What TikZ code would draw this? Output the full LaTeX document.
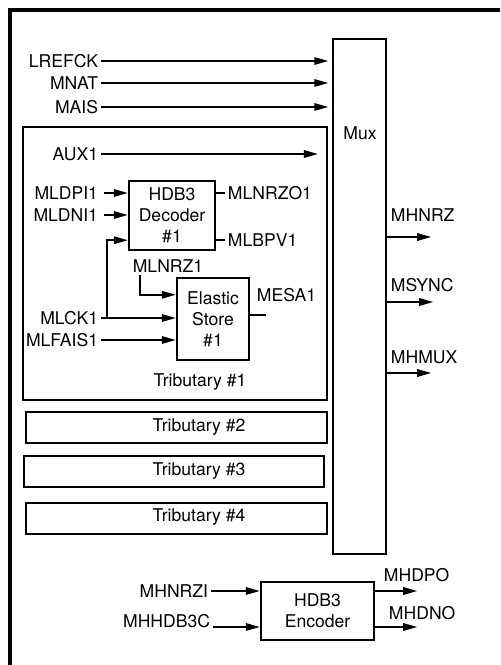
\documentclass[tikz,border=0pt]{standalone}
\usepackage{fontspec}
\setmainfont{TeX Gyre Heros}
\usepackage{tikz}
\usetikzlibrary{arrows.meta,positioning,calc}
\tikzset{
  frame/.style = {line width=2.8pt},
  blk/.style   = {draw,line width=1.4pt,align=center,inner sep=0pt},
  trib/.style  = {draw,line width=1.1pt,inner sep=0pt},
  lbl/.style   = {inner sep=1.5pt,align=center,
                  font=\fontsize{10}{12}\selectfont},
  sig/.style   = {-{Triangle[length=2.8mm,width=1.5mm]},line width=0.9pt},
  stub/.style  = {line width=0.9pt},
}

\begin{document}
\begin{tikzpicture}[x=0.02cm,y=-0.02cm,font=\fontsize{10}{12}\selectfont]
  \useasboundingbox (0,0) rectangle (500,665);
  % outer frame
  \draw[frame] (10,665) -- (10,10) -- (500,10);

  % Mux
  \node[blk,minimum width=1.06cm,minimum height=10.3cm] (mux) at (359.5,296.5) {};
  \node[lbl] (muxlbl) at (360,133) {Mux};

  % common inputs into the mux
  \node[lbl,anchor=east] (lrefck) at (101,61) {LREFCK};
  \node[lbl,anchor=east] (mnat) at (101,83) {MNAT};
  \node[lbl,anchor=east] (mais) at (101,107) {MAIS};
  \draw[sig,shorten >=2pt] (lrefck.east) -- (mux.west |- lrefck.east);
  \draw[sig,shorten >=2pt] (mnat.east) -- (mux.west |- mnat.east);
  \draw[sig,shorten >=2pt] (mais.east) -- (mux.west |- mais.east);

  % Tributary boxes
  \node[trib,minimum width=6.08cm,minimum height=5.46cm] (trib1) at (175,263.5) {};
  \node[trib,minimum width=6.02cm,minimum height=0.62cm] (trib2) at (176.5,427.5) {};
  \node[trib,minimum width=6.0cm,minimum height=0.62cm] (trib3) at (174,471.5) {};
  \node[trib,minimum width=6.02cm,minimum height=0.62cm] (trib4) at (176.5,518.5) {};
  \node[lbl] (trib1lbl) at (200,382) {Tributary \#1};
  \node[lbl] (trib2lbl) at (199,427) {Tributary \#2};
  \node[lbl] (trib3lbl) at (199,471) {Tributary \#3};
  \node[lbl] (trib4lbl) at (199,517) {Tributary \#4};

  % AUX1
  \node[lbl,anchor=east] (aux) at (101,154) {AUX1};
  \draw[sig] (aux.east) -- ($(trib1.east |- aux.east)+(-10,0)$);

  % HDB3 decoder and elastic store
  \node[blk,minimum width=1.72cm,minimum height=1.38cm] (dec) at (172,215.5)
        {HDB3\\ Decoder\\ \#1};
  \node[blk,minimum width=1.44cm,minimum height=1.64cm] (es) at (213,319)
        {Elastic\\ Store\\ \#1};

  \node[lbl,anchor=east] (mldpi) at (101,193) {MLDPI1};
  \node[lbl,anchor=east] (mldni) at (101,215) {MLDNI1};
  \node[lbl,anchor=east] (mlck) at (101,318) {MLCK1};
  \node[lbl,anchor=east] (mlfais) at (101,340) {MLFAIS1};
  \draw[sig] ($(mldpi.east)+(3,0)$) -- (dec.west |- mldpi.east);
  \draw[sig] ($(mldni.east)+(3,0)$) -- (dec.west |- mldni.east);
  \draw[sig] (mlck.east) -- (es.west |- mlck.east);
  \draw[sig] ($(mlck.east)+(6,0)$) |- ($(dec.south west)+(0,-11)$);
  \draw[sig] (mlfais.east) -- (es.west |- mlfais.east);

  % decoder outputs
  \node[lbl,anchor=west] (mlnrzo) at (225,193) {MLNRZO1};
  \node[lbl,anchor=west] (mlbpv) at (225,240) {MLBPV1};
  \draw[stub] (dec.east |- mlnrzo.west) -- (mlnrzo.west);
  \draw[stub] (dec.east |- mlbpv.west) -- (mlbpv.west);
  \node[lbl] (mlnrz) at (168,266) {MLNRZ1};
  \draw[sig] ($(mlnrz.south west)+(10,0)$) |- ($(es.north west)+(0,18)$);

  % elastic store output
  \node[lbl,anchor=west] (mesa) at (254,295) {MESA1};
  \draw[stub] ($(es.east)+(0,-4)$) -- ++(16,0);

  % mux outputs
  \coordinate (o1) at (mux.east |- 0,237);
  \coordinate (o2) at (mux.east |- 0,302);
  \coordinate (o3) at (mux.east |- 0,373);
  \node[lbl,anchor=west] (mhnrz) at (388,215) {MHNRZ};
  \node[lbl,anchor=west] (msync) at (388,285) {MSYNC};
  \node[lbl,anchor=west] (mhmux) at (388,357) {MHMUX};
  \draw[sig] (o1) -- ++(44,0);
  \draw[sig] (o2) -- ++(46,0);
  \draw[sig] (o3) -- ++(44,0);

  % HDB3 encoder
  \node[blk,minimum width=2.26cm,minimum height=1.16cm] (enc) at (317.5,611)
        {HDB3\\ Encoder};
  \node[lbl,anchor=east] (mhnrzi) at (211,591) {MHNRZI};
  \node[lbl,anchor=base east] (mhhdb3c) at (213,627) {MHHDB3C};
  \draw[sig] (mhnrzi.east) -- (enc.west |- mhnrzi.east);
  \draw[sig] (mhhdb3c.base east) -- (enc.west |- mhhdb3c.base east);
  \node[lbl,anchor=west] (mhdpo) at (381,575) {MHDPO};
  \node[lbl,anchor=west] (mhdno) at (386,613) {MHDNO};
  \draw[sig] (enc.east |- mhnrzi.east) -- ++(42,0);
  \draw[sig] (enc.east |- mhhdb3c.base east) -- ++(42,0);
\end{tikzpicture}
\end{document}
